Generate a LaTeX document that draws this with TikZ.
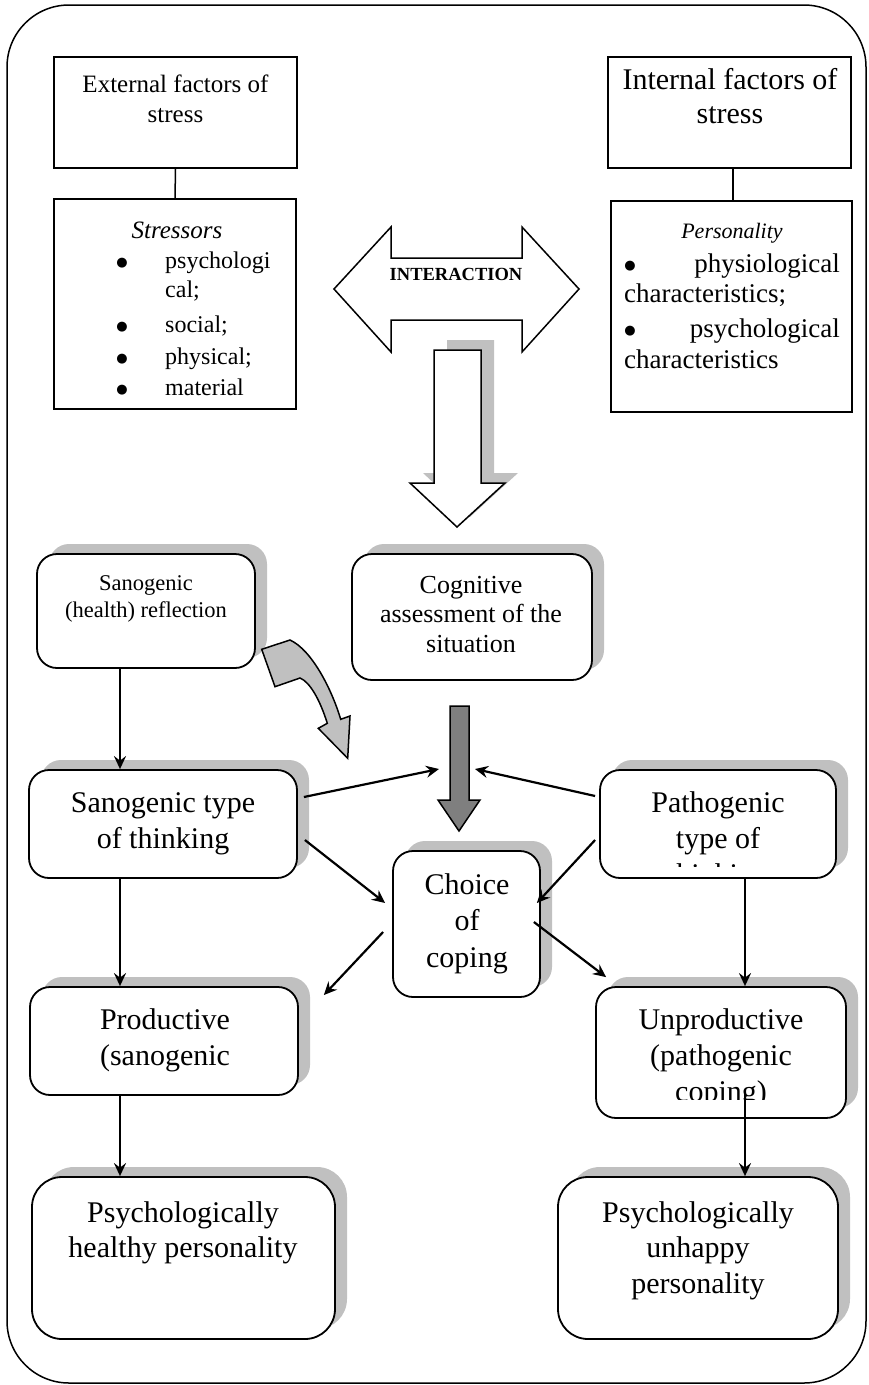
\documentclass[tikz,border=0pt]{standalone}
\usepackage{fontspec}
\setmainfont{Liberation Serif}
\newfontfamily\symfont{DejaVu Sans}
\usetikzlibrary{arrows.meta,shadows}
\definecolor{shadowgray}{HTML}{C0C0C0}
\definecolor{arrowgray}{HTML}{7F7F7F}
\newcommand\setfs[2]{\fontsize{#1}{#2}\selectfont}
\begin{document}
\begin{tikzpicture}[x=1pt,y=-1pt,
  sqbox/.style={draw, line width=1.8pt, inner sep=0pt, fill=white},
  rbox/.style={draw, line width=1.8pt, inner sep=0pt, fill=white, rounded corners=#1,
     drop shadow={shadow xshift=12pt, shadow yshift=10pt, opacity=1, fill=shadowgray}},
  rbox/.default=20pt,
  txt/.style={align=center, inner sep=0pt, anchor=base},
  arr/.style={-{Stealth[length=13pt,width=12pt,inset=4.5pt]}, line width=2.2pt},
  plain/.style={line width=1.5pt},
  big/.style={font=\setfs{30}{36}},
  bul/.style={inner sep=0pt, anchor=center, font=\symfont\setfs{13}{14}}
]
\useasboundingbox (0,0) rectangle (868,1385);
% outer frame
\draw[line width=1.5pt, rounded corners=62pt] (7,5) rectangle (866,1383);

% top boxes
\node[sqbox, minimum width=243pt, minimum height=111pt] (ext) at (175.5,112.5) {};
\node[sqbox, minimum width=242pt, minimum height=210pt] (str) at (175,304) {};
\node[sqbox, minimum width=243pt, minimum height=111pt] (int) at (729.5,112.5) {};
\node[sqbox, minimum width=241pt, minimum height=211pt] (per) at (731.5,306.5) {};
\draw[plain] (ext.south) -- (str.north);
\draw[plain] ([xshift=3.5pt]int.south) -- ([xshift=1.5pt]per.north);

\node[txt, font=\setfs{25}{30}] (extt) at (175.5,122) {External factors of\\stress};
\node[txt, font=\setfs{30}{34}] (intt) at (730,123) {Internal factors of\\stress};

% stressors
\node[txt, font=\setfs{25}{30}\itshape] (strt) at (177,238) {Stressors};
\node[bul] (b1) at (122,263.5) {●};
\node[bul] (b2) at (122,327.5) {●};
\node[bul] (b3) at (122,359.5) {●};
\node[bul] (b4) at (122,390.5) {●};
\begin{scope}[every node/.style={inner sep=0pt, font=\setfs{24}{30}}]
\node[anchor=base west] (s1) at (165,268) {psychologi};
\node[anchor=base west] (s1b) at (165,297) {cal;};
\node[anchor=base west] (s2) at (165,332) {social;};
\node[anchor=base west] (s3) at (165,364) {physical;};
\node[anchor=base west] (s4) at (165,395) {material};
\end{scope}

% personality
\node[txt, font=\setfs{22}{26}\itshape] (pert) at (732,238) {Personality};
\node[bul] (pb1) at (630,266) {●};
\node[bul] (pb2) at (630,331) {●};
\begin{scope}[every node/.style={inner sep=0pt, font=\setfs{27}{32}}]
\node[anchor=base east] (p1) at (840,272) {physiological};
\node[anchor=base west] (p1b) at (624,302) {characteristics;};
\node[anchor=base east] (p2) at (840,337) {psychological};
\node[anchor=base west] (p2b) at (624,368) {characteristics};
\end{scope}

% interaction double arrow
\draw[line width=1.5pt, fill=white] (334,289) -- (391,227) -- (391,258) -- (522,258) -- (522,227)
  -- (579,289) -- (522,352) -- (522,320) -- (391,320) -- (391,352) -- cycle;
\node[txt, font=\setfs{18.5}{22}\bfseries] (inter) at (456,280) {INTERACTION};

% white down arrow with shadow
\fill[shadowgray] (447,340) -- (494,340) -- (494,473) -- (518,473) -- (470,517) -- (423,473) -- (447,473) -- cycle;
\draw[line width=1.5pt, fill=white] (434,350) -- (481,350) -- (481,483) -- (505,483) -- (457,527)
  -- (410,483) -- (434,483) -- cycle;

% rounded boxes
\node[rbox, minimum width=218pt, minimum height=114pt] (refl) at (146,611) {};
\node[rbox, minimum width=240pt, minimum height=126pt] (cog) at (472,617) {};
\node[rbox, minimum width=268pt, minimum height=108pt] (st) at (163,824) {};
\node[rbox, minimum width=236pt, minimum height=108pt] (pt) at (718,824) {};
\node[rbox, minimum width=147pt, minimum height=146pt] (ch) at (466.5,924) {};
\node[rbox, minimum width=268pt, minimum height=108pt] (pr) at (164,1041) {};
\node[rbox, minimum width=250pt, minimum height=131pt] (up) at (721,1052.5) {};
\node[rbox=30pt, minimum width=303pt, minimum height=162pt] (ph) at (183.5,1258) {};
\node[rbox=30pt, minimum width=280pt, minimum height=162pt] (pu) at (698,1258) {};

% texts (anchor = baseline of last line)
\node[txt, font=\setfs{22.5}{27}] (reflt) at (146,617) {Sanogenic\\(health) reflection};
\node[txt, font=\setfs{26}{29.5}] (cogt) at (471,652) {Cognitive\\assessment of the\\situation};
\node[txt, big] (stt) at (163,848) {Sanogenic type\\of thinking};
\begin{scope}
\clip (600,770) rectangle (836,866.5);
\node[txt, big] (ptt) at (718,884) {Pathogenic\\type of\\thinking};
\end{scope}
\node[txt, font=\setfs{30}{36.5}] (cht) at (467,967) {Choice\\of\\coping};
\node[txt, big] (prt) at (165,1065) {Productive\\(sanogenic};
\begin{scope}
\clip (596,987) rectangle (846,1099);
\node[txt, big] (upt) at (721,1101) {Unproductive\\(pathogenic\\coping)};
\end{scope}
\node[txt, font=\setfs{30}{35}] (pht) at (183,1257) {Psychologically\\healthy personality};
\node[txt, font=\setfs{30}{35.5}] (put) at (698,1293) {Psychologically\\unhappy\\personality};

% curved gray arrow
\draw[line width=1.5pt, fill=shadowgray, line join=miter]
  (261.7,649.3) -- (290,640)
  .. controls (312,650) and (332,690) .. (340.7,719.3)
  -- (350,716) -- (347.7,758.3) -- (318.3,728.3) -- (327.3,723.3)
  .. controls (320,700) and (310,682) .. (300,678)
  -- (275,686.7) -- cycle;

% dark gray arrow
\draw[line width=1.5pt, fill=arrowgray] (450,706) -- (469,706) -- (469,800) -- (480,800) -- (459,831)
  -- (438,800) -- (450,800) -- cycle;

% connectors
\coordinate (c1) at (439,769);
\coordinate (c2) at (475,769);
\draw[arr] ([xshift=-26pt]refl.south) -- ([xshift=-43pt]st.north);
\draw[arr] ([xshift=-43pt]st.south) -- ([xshift=-44pt]pr.north);
\draw[arr] ([xshift=-44pt]pr.south) -- ([xshift=-63.5pt]ph.north);
\draw[arr] ([xshift=27pt]pt.south) -- ([xshift=24pt]up.north);
\draw[arr] ([shift={(24,40.5)}]up.center) -- ([xshift=47pt]pu.north);
\draw[arr] ([shift={(6,-27)}]st.east) -- (c1);
\draw[arr] ([shift={(-4,-28)}]pt.west) -- (c2);
\draw[arr] ([shift={(7,16)}]st.east) -- ([shift={(-7,-21)}]ch.west);
\draw[arr] ([shift={(-4,16)}]pt.west) -- ([shift={(-4,-21)}]ch.east);
\draw[arr] ([shift={(-9,8)}]ch.west) -- ([shift={(25,-46)}]pr.east);
\draw[arr] ([shift={(-7,-2)}]ch.east) -- ([shift={(11,-9)}]up.north west);
\end{tikzpicture}
\end{document}
